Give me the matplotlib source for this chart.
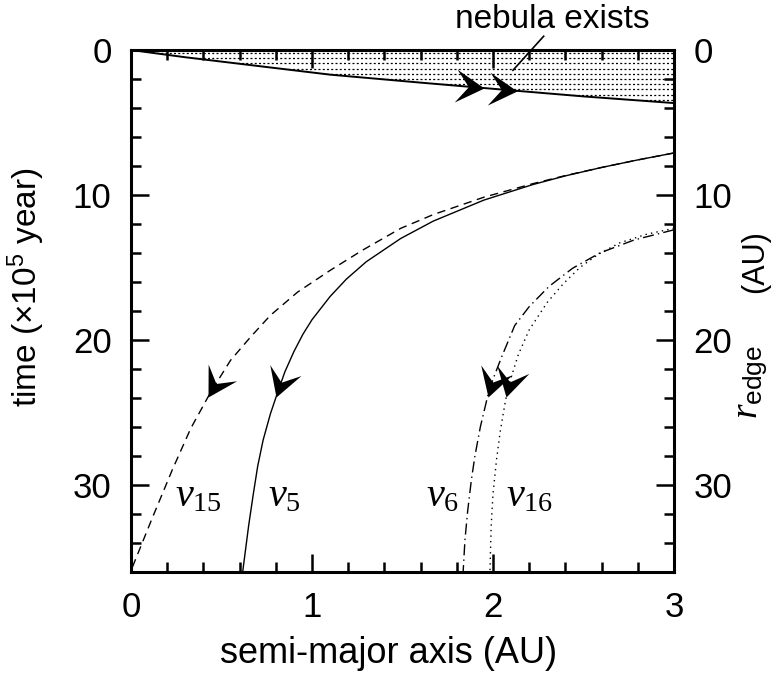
import numpy as np
import matplotlib.pyplot as plt
from matplotlib.markers import MarkerStyle
from matplotlib.path import Path
from matplotlib.transforms import Affine2D

plt.rcParams['font.family'] = ['Liberation Sans', 'DejaVu Sans']
plt.rcParams['mathtext.fontset'] = 'custom'
plt.rcParams['mathtext.rm'] = 'Liberation Serif'
plt.rcParams['mathtext.it'] = 'Liberation Serif:italic'
plt.rcParams['mathtext.sf'] = 'Liberation Sans'

# -----------------------------
# Data
# -----------------------------
# nebula edge r_edge(t)
a_edge = [0.0, 0.3, 0.6, 1.1, 1.6, 2.07, 2.5, 3.0]
t_edge = [0.0, 0.5, 0.95, 1.7, 2.25, 2.75, 3.2, 3.66]

# nu5 (solid)
a_nu5 = [3.0, 2.8, 2.6, 2.4, 2.22, 1.95, 1.67, 1.49, 1.3, 1.19, 1.10, 1.0, 0.95,
         0.9, 0.85, 0.805, 0.77, 0.73, 0.70, 0.676, 0.65, 0.62, 0.617]
t_nu5 = [7.1, 7.58, 8.1, 8.68, 9.28, 10.35, 11.8, 13.0, 14.6, 15.8, 17.0, 18.6, 19.6,
         20.8, 22.2, 23.8, 25.1, 26.9, 28.7, 30.6, 32.8, 35.7, 36.0]

# nu15 (dashed)
a_nu15 = [3.0, 2.8, 2.6, 2.4, 2.22, 1.95, 1.67, 1.49, 1.28, 1.10, 0.92, 0.77, 0.66,
          0.55, 0.44, 0.33, 0.23, 0.12, 0.0]
t_nu15 = [7.1, 7.58, 8.1, 8.66, 9.22, 10.15, 11.35, 12.3, 13.8, 15.2, 16.7, 18.3,
          19.8, 21.4, 23.6, 26.1, 28.9, 32.2, 35.9]

# nu6 (dash-dot)
a_nu6 = [3.0, 2.78, 2.59, 2.44, 2.31, 2.20, 2.12, 2.05, 2.0, 1.97, 1.93, 1.90,
         1.88, 1.86, 1.845, 1.835]
t_nu6 = [12.4, 13.1, 14.0, 15.05, 16.3, 17.7, 19.0, 21.1, 22.7, 23.9, 26.0, 28.0,
         29.7, 31.8, 33.8, 36.0]

# nu16 (dotted)
a_nu16 = [3.0, 2.85, 2.7, 2.58, 2.48, 2.39, 2.30, 2.2, 2.14, 2.10, 2.07, 2.04,
          2.02, 2.0, 1.99, 1.983]
t_nu16 = [12.3, 12.7, 13.3, 14.1, 15.0, 16.1, 17.4, 19.3, 21.0, 22.6, 24.1, 26.3,
          28.2, 30.6, 32.8, 36.0]

edge_arrow_a = [1.95, 2.13]
res_arrow_t = 23.9

# -----------------------------
# Figure
# -----------------------------
fig = plt.figure(figsize=(7.72, 6.75), dpi=100)
ax = fig.add_axes([131 / 772, 1 - 572 / 675, 543 / 772, 522 / 675])
ax.set_xlim(0, 3)
ax.set_ylim(36, 0)

# nebula region (dotted shading between t=0 and the edge)
fill = ax.fill_between(a_edge, 0, t_edge, facecolor='none', edgecolor='none')
for y in np.arange(0.2, 3.7, 0.36):
    ln, = ax.plot([0, 3], [y, y], color='black', lw=0.9, ls=(0, (1.6, 1.8)))
    ln.set_clip_path(fill.get_paths()[0], ax.transData)

ax.plot(a_edge, t_edge, color='black', lw=1.4)
ax.plot(a_nu5, t_nu5, color='black', lw=1.0)
ax.plot(a_nu15, t_nu15, color='black', lw=1.0, ls=(0, (6, 4)))
ax.plot(a_nu6, t_nu6, color='black', lw=1.0, ls=(0, (8, 3, 1, 3)))
ax.plot(a_nu16, t_nu16, color='black', lw=1.0, ls=(0, (1, 3)))

# arrowheads
head = Path([(0, 0), (-1, 0.58), (-0.55, 0), (-1, -0.58), (0, 0)],
            [Path.MOVETO, Path.LINETO, Path.LINETO, Path.LINETO, Path.CLOSEPOLY])


def draw_head(tip, prev):
    p1 = ax.transData.transform(tip)
    p0 = ax.transData.transform(prev)
    ang = np.degrees(np.arctan2(p1[1] - p0[1], p1[0] - p0[0]))
    m = MarkerStyle(head, transform=Affine2D().rotate_deg(ang))
    ax.plot([tip[0]], [tip[1]], marker=m, ms=41, color='black', mew=0, zorder=5)


for a0 in edge_arrow_a:
    tt = np.interp(a0, a_edge, t_edge)
    tp = np.interp(a0 - 0.05, a_edge, t_edge)
    draw_head((a0, tt), (a0 - 0.05, tp))

for a_c, t_c in [(a_nu15, t_nu15), (a_nu5, t_nu5), (a_nu6, t_nu6), (a_nu16, t_nu16)]:
    at = np.interp(res_arrow_t, t_c, a_c)
    ap = np.interp(res_arrow_t - 0.6, t_c, a_c)
    draw_head((at, res_arrow_t), (ap, res_arrow_t - 0.6))

# resonance labels
ax.text(0.37, 30.7, r'$\nu_{15}$', fontsize=29, ha='center', va='center')
ax.text(0.85, 30.7, r'$\nu_{5}$', fontsize=29, ha='center', va='center')
ax.text(1.72, 30.7, r'$\nu_{6}$', fontsize=29, ha='center', va='center')
ax.text(2.20, 30.7, r'$\nu_{16}$', fontsize=29, ha='center', va='center')

ax.text(2.33, -2.1, 'nebula exists', fontsize=24, ha='center', va='center')
ax.plot([2.28, 2.11], [-0.95, 1.4], color='black', lw=1.2, clip_on=False)

# axes styling
ax.set_xticks([0, 1, 2, 3])
ax.set_xticks(np.arange(0, 3.01, 0.2), minor=True)
ax.set_yticks([0, 10, 20, 30])
ax.set_yticks(np.arange(0, 36.1, 2), minor=True)
ax.tick_params(which='both', direction='in', top=True, right=True,
               labelright=True, labelsize=25, width=1.8, pad=14)
ax.tick_params(which='major', length=13)
ax.tick_params(which='minor', length=7)
for s in ax.spines.values():
    s.set_linewidth(2.2)

ax.set_xlabel('semi-major axis (AU)', fontsize=26)
ax.xaxis.set_label_coords(0.474, -0.122)
ax.set_ylabel(r'time ($\mathsf{\times 10^{5}}$ year)', fontsize=24)
ax.yaxis.set_label_coords(-0.155, 0.545)
fig.text(751 / 772, 1 - 382 / 675, r'$r_{\mathsf{edge}}$', fontsize=27,
         rotation=90, ha='center', va='center')
fig.text(755 / 772, 1 - 262 / 675, '(AU)', fontsize=22,
         rotation=90, ha='center', va='center')

plt.savefig('out.png', dpi=100)
